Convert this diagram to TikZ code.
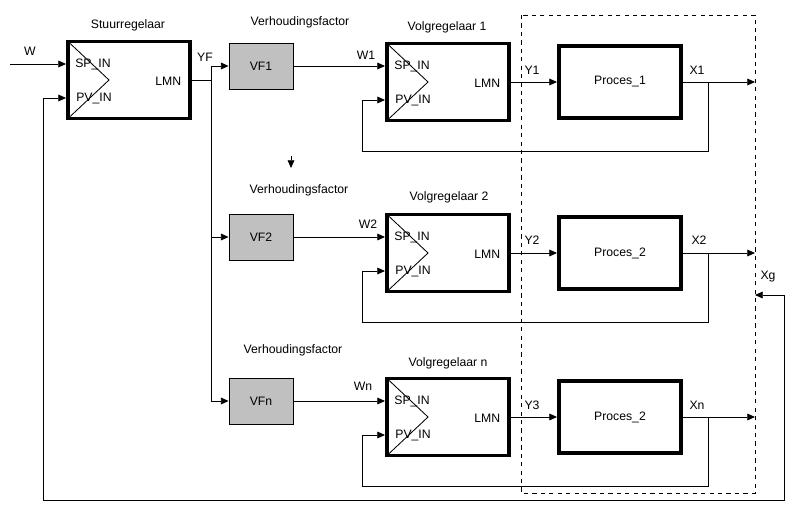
\documentclass[tikz,border=0pt]{standalone}
\usepackage{fontspec}
\setmainfont{Liberation Sans}
\usepackage{xcolor}
\usepackage{tikz}
\usetikzlibrary{positioning, calc, arrows.meta}
\definecolor{vfgray}{RGB}{192,192,192}

\begin{document}
\begin{tikzpicture}[x=0.025cm, y=-0.025cm,
    font=\fontsize{8.7}{10}\selectfont,
    >={Triangle[length=5.5pt,width=4.8pt]},
    line width=0.6pt,
    ctrl/.style={draw, rectangle, line width=2.8pt, minimum width=3.05cm, minimum height=1.925cm},
    proc/.style={draw, rectangle, line width=2.8pt, minimum width=3.05cm, minimum height=1.8cm},
    vf/.style={draw, rectangle, fill=vfgray, line width=0.6pt, minimum width=1.6cm, minimum height=1.15cm},
    lbl/.style={inner sep=1pt}]
        \useasboundingbox (0,0) rectangle (794,518);

        % blocks
        \node[ctrl] (stuur) at (129,80) {};
        \node[vf] (vf1) at (261,66) {VF1};
        \node[ctrl] (vr1) at (448,82) {};
        \node[proc] (pr1) at (620,82) {Proces\_1};
        \node[vf] (vf2) at (261,237) {VF2};
        \node[ctrl] (vr2) at (448,253) {};
        \node[proc] (pr2) at (620,253) {Proces\_2};
        \node[vf] (vfn) at (261,401) {VFn};
        \node[ctrl] (vrn) at (448,417) {};
        \node[proc] (prn) at (620,417) {Proces\_2};

        % titles
        \node[lbl] (stuurT) at (128,25) {Stuurregelaar};
        \node[lbl] (vf1T) at (300,22) {Verhoudingsfactor};
        \node[lbl] (vr1T) at (447,27) {Volgregelaar 1};
        \node[lbl] (vf2T) at (299,190) {Verhoudingsfactor};
        \node[lbl] (vr2T) at (449,197) {Volgregelaar 2};
        \node[lbl] (vfnT) at (293,350) {Verhoudingsfactor};
        \node[lbl] (vrnT) at (448,363) {Volgregelaar n};

        % controller inside: triangle and ports
        \foreach \c in {stuur, vr1, vr2, vrn} {
          \draw ($(\c.north west)+(2,2)$) -- ($(\c.west)+(43,0)$) -- ($(\c.south west)+(2,-2)$);
          \node[lbl] (\c sp) at ($(\c.west)+(27,-16)$) {SP\_IN};
          \node[lbl] (\c pv) at ($(\c.west)+(28,19)$) {PV\_IN};
          \node[lbl, anchor=east] (\c lmn) at ($(\c.east)+(-9,1)$) {LMN};
          \coordinate (\c spin) at ($(\c.west)+(0,-16)$);
          \coordinate (\c pvin) at ($(\c.west)+(0,18)$);
        }

        % signal labels
        \node[lbl] (w) at (30,51) {W};
        \node[lbl] (yf) at (205,57) {YF};
        \node[lbl] (w1) at (366,55) {W1};
        \node[lbl] (y1) at (532,70) {Y1};
        \node[lbl] (x1) at (697,70) {X1};
        \node[lbl] (w2) at (368,224) {W2};
        \node[lbl] (y2) at (532,240) {Y2};
        \node[lbl] (x2) at (699,240) {X2};
        \node[lbl] (wn) at (363,386) {Wn};
        \node[lbl] (y3) at (532,405) {Y3};
        \node[lbl] (xn) at (697,405) {Xn};
        \node[lbl] (xg) at (768,277) {Xg};

        % free ends
        \coordinate (win) at (10,64);
        \coordinate (yfsplit) at (211,80);
        \coordinate (x1out) at (755,82);
        \coordinate (x2out) at (755,253);
        \coordinate (xnout) at (755,417);
        \coordinate (fb1) at (708,82);
        \coordinate (fb2) at (708,253);
        \coordinate (fbn) at (708,417);
        \coordinate (xgin) at (755,295);
        \coordinate (loopr) at (784,500);
        \coordinate (loopl) at (43,500);
        \coordinate (arrtop) at (291,156);
        \coordinate (arrbot) at (291,168);

        % connections
        \draw[->] (win) -- (stuurspin);
        \draw (stuur.east) -- (yfsplit);
        \draw[->] (yfsplit) |- (vf1);
        \draw[->] (yfsplit) |- (vf2);
        \draw[->] (yfsplit) |- (vfn);

        \draw[->] (vf1) -- (vr1spin);
        \draw[->] (vf2) -- (vr2spin);
        \draw[->] (vfn) -- (vrnspin);

        \draw[->] (vr1.east) -- (pr1.west);
        \draw[->] (vr2.east) -- (pr2.west);
        \draw[->] (vrn.east) -- (prn.west);

        \draw[->] (pr1.east) -- (x1out);
        \draw[->] (pr2.east) -- (x2out);
        \draw[->] (prn.east) -- (xnout);

        \draw[->] (fb1) |- ($(vr1pvin)+(-23,51)$) |- (vr1pvin);
        \draw[->] (fb2) |- ($(vr2pvin)+(-23,51)$) |- (vr2pvin);
        \draw[->] (fbn) |- ($(vrnpvin)+(-23,51)$) |- (vrnpvin);

        \draw[<->] (xgin) -| (loopr) -- (loopl) |- (stuurpvin);

        \draw[->] (arrtop) -- (arrbot);

        \draw[dashed] (521,15) rectangle (755,493);
      \end{tikzpicture}
\end{document}
